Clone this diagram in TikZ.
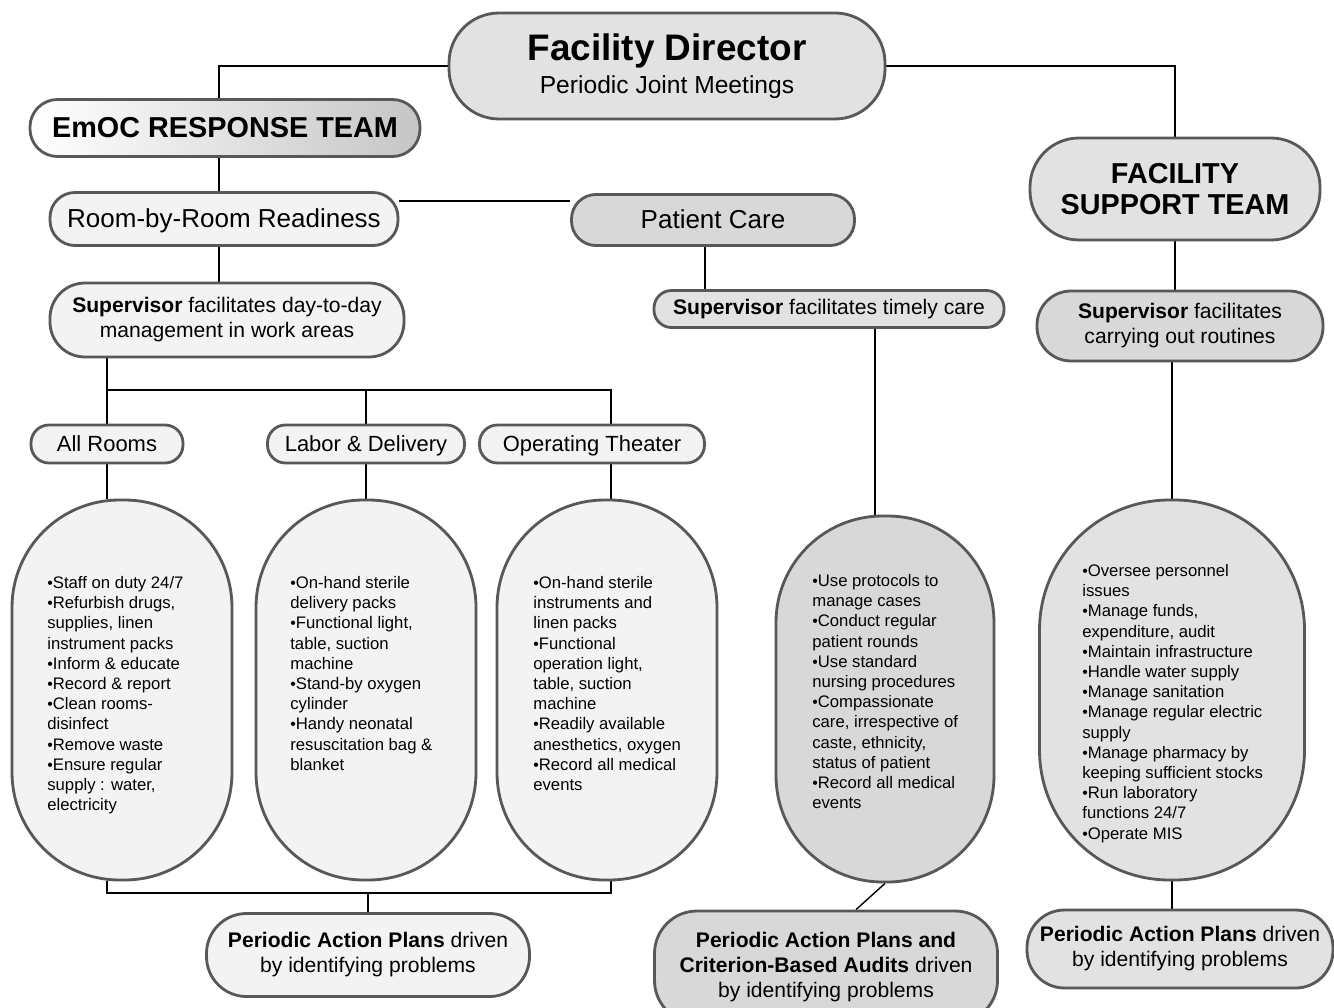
\documentclass[tikz,border=0pt]{standalone}
\usepackage{fontspec}
\setmainfont{Liberation Sans}
\usepackage{tikz}
\usetikzlibrary{positioning, shadows, backgrounds}
\usepackage{xcolor}
\definecolor{edgecolor}{RGB}{88, 88, 88}
\definecolor{lightfill}{RGB}{243, 243, 243}
\definecolor{midfill}{RGB}{226, 226, 226}
\definecolor{darkfill}{RGB}{216, 216, 216}
\newcommand{\dotitem}{{\fontsize{9}{9}\selectfont\textbullet}}

\begin{document}
\begin{tikzpicture}[
    pill/.style={rectangle, rounded corners=#1, draw=edgecolor, line width=1.6pt,
                 align=center, inner sep=0pt, text=black,
                 drop shadow={opacity=0.25, shadow xshift=0.6pt, shadow yshift=-0.6pt},
                 font=\fontsize{12}{14.2}\selectfont},
    area/.style={pill=0.36cm, fill=lightfill, minimum height=0.76cm,
                 text height=10.2pt, text depth=1.6pt,
                 font=\fontsize{12.5}{15}\selectfont},
    listoval/.style={pill=2.15cm, fill=lightfill, minimum width=4.4cm, minimum height=7.6cm},
    bullets/.style={align=left, anchor=north west, inner sep=0pt,
                    font=\fontsize{9.5}{11.5}\selectfont},
    connection/.style={-, line width=0.8pt, black}
]
\useasboundingbox (0,0) rectangle (26.68,-20.16);

% Top level
\node[pill=1cm, fill=midfill, minimum width=8.72cm, minimum height=2.12cm,
      font=\fontsize{14}{19}\selectfont] (director) at (13.34,-1.32)
      {{\fontsize{21}{19}\selectfont\bfseries Facility Director}\\Periodic Joint Meetings};
\node[pill=0.55cm, left color=white, right color=gray!45, minimum width=7.8cm, minimum height=1.14cm,
      font=\fontsize{16.4}{19}\selectfont\bfseries] (emoc) at (4.5,-2.56) {EmOC RESPONSE TEAM};
\node[pill=0.98cm, fill=midfill, minimum width=5.8cm, minimum height=2.04cm,
      font=\fontsize{16.4}{17.6}\selectfont\bfseries] (support) at (23.5,-3.78) {FACILITY\\SUPPORT TEAM};

% Second level
\node[pill=0.5cm, fill=lightfill, minimum width=6.96cm, minimum height=1.06cm,
      text height=11.6pt, text depth=2pt,
      font=\fontsize{14.8}{17}\selectfont] (room) at (4.48,-4.38) {Room-by-Room Readiness};
\node[pill=0.49cm, fill=darkfill, minimum width=5.66cm, minimum height=1.02cm,
      text height=11.6pt, text depth=2pt,
      font=\fontsize{14.8}{17}\selectfont] (care) at (14.26,-4.4) {Patient Care};

% Supervisors
\node[pill=0.7cm, fill=lightfill, minimum width=7.08cm, minimum height=1.48cm] (supday) at (4.54,-6.4)
      {\textbf{Supervisor} facilitates day-to-day\\management in work areas};
\node[pill=0.35cm, fill=midfill, minimum width=7cm, minimum height=0.74cm] (suptime) at (16.58,-6.18)
      {\textbf{Supervisor} facilitates timely care};
\node[pill=0.68cm, fill=darkfill, minimum width=5.72cm, minimum height=1.4cm] (suprout) at (23.6,-6.52)
      {\textbf{Supervisor} facilitates\\carrying out routines};

% Work areas
\node[area, minimum width=3.04cm] (allrooms) at (2.14,-8.88) {All Rooms};
\node[area, minimum width=3.94cm] (labor) at (7.32,-8.88) {Labor \& Delivery};
\node[area, minimum width=4.5cm] (theater) at (11.84,-8.88) {Operating Theater};
\coordinate (split) at (2.12,-7.8);
\coordinate (ottap) at ([xshift=0.38cm]theater.north);

% Task ovals
\node[listoval] (ovA) at (2.44,-13.8) {};
\node[listoval] (ovB) at (7.32,-13.8) {};
\node[listoval] (ovC) at (12.14,-13.8) {};
\node[listoval, fill=darkfill, minimum width=4.36cm, minimum height=7.32cm, rounded corners=2.13cm] (ovM) at (17.7,-13.98) {};
\node[listoval, fill=midfill, minimum width=5.3cm, rounded corners=2.6cm] (ovR) at (23.44,-13.8) {};

\node[bullets] (listA) at (0.94,-11.52) {\dotitem Staff on duty 24/7\\\dotitem Refurbish drugs,\\supplies, linen\\instrument packs\\\dotitem Inform \& educate\\\dotitem Record \& report\\\dotitem Clean rooms-\\disinfect\\\dotitem Remove waste\\\dotitem Ensure regular\\supply : water,\\electricity};
\node[bullets] (listB) at (5.8,-11.52) {\dotitem On-hand sterile\\delivery packs\\\dotitem Functional light,\\table, suction\\machine\\\dotitem Stand-by oxygen\\cylinder\\\dotitem Handy neonatal\\resuscitation bag \&\\blanket};
\node[bullets] (listC) at (10.66,-11.52) {\dotitem On-hand sterile\\instruments and\\linen packs\\\dotitem Functional\\operation light,\\table, suction\\machine\\\dotitem Readily available\\anesthetics, oxygen\\\dotitem Record all medical\\events};
\node[bullets] (listM) at (16.24,-11.48) {\dotitem Use protocols to\\manage cases\\\dotitem Conduct regular\\patient rounds\\\dotitem Use standard\\nursing procedures\\\dotitem Compassionate\\care, irrespective of\\caste, ethnicity,\\status of patient\\\dotitem Record all medical\\events};
\node[bullets] (listR) at (21.64,-11.28) {\dotitem Oversee personnel\\issues\\\dotitem Manage funds,\\expenditure, audit\\\dotitem Maintain infrastructure\\\dotitem Handle water supply\\\dotitem Manage sanitation\\\dotitem Manage regular electric\\supply\\\dotitem Manage pharmacy by\\keeping sufficient stocks\\\dotitem Run laboratory\\functions 24/7\\\dotitem Operate MIS};

% Action plans
\node[pill=0.8cm, fill=lightfill, minimum width=6.46cm, minimum height=1.66cm] (planA) at (7.36,-19.1)
      {\textbf{Periodic Action Plans} driven\\by identifying problems};
\node[pill=0.85cm, fill=darkfill, minimum width=6.86cm, minimum height=2.24cm] (planM) at (16.52,-19.34)
      {\textbf{Periodic Action Plans and}\\\textbf{Criterion-Based Audits} driven\\by identifying problems};
\node[pill=0.75cm, fill=midfill, minimum width=6.12cm, minimum height=1.56cm] (planR) at (23.6,-18.98)
      {\textbf{Periodic Action Plans} driven\\by identifying problems};
\coordinate (merge) at (planA.north |- 0,-17.86);

% Connections
\begin{scope}[on background layer]
\draw[connection] (director.west) -| ([xshift=-0.12cm]emoc.north);
\draw[connection] (director.east) -| (support.north);
\draw[connection] ([xshift=-0.12cm]emoc.south) -- ([xshift=-0.12cm]emoc.south |- room.north);
\draw[connection] ([yshift=0.36cm]room.east) -- ([yshift=0.36cm]room.east -| care.west);
\draw[connection] ([xshift=-0.1cm]room.south) -- ([xshift=-0.1cm]room.south |- supday.north);
\draw[connection] ([xshift=-0.16cm]care.south) -- ([xshift=-0.16cm]care.south |- suptime.north);
\draw[connection] (support.south) -- (support.south |- suprout.north);
\draw[connection] (allrooms.north) -- (allrooms.north |- supday.south);
\draw[connection] (split) -| (ottap);
\draw[connection] (labor.north |- split) -- (labor.north);
\draw[connection] (allrooms.south) -- (allrooms.south |- ovA.north);
\draw[connection] (labor.south) -- (labor.south |- ovB.north);
\draw[connection] ([xshift=0.38cm]theater.south) -- ([xshift=0.38cm]theater.south |- ovC.north);
\draw[connection] ([xshift=-0.2cm]ovM.north |- suptime.south) -- ([xshift=-0.2cm]ovM.north);
\draw[connection] (ovR.north |- suprout.south) -- (ovR.north);
\draw[connection] (allrooms.south |- ovA.south) |- (merge) -| (ottap |- ovC.south);
\draw[connection] (merge) -- (planA.north);
\draw[connection] (ovM.south) -- ([xshift=0.6cm]planM.north);
\draw[connection] (ovR.south) -- (ovR.south |- planR.north);
\end{scope}

\end{tikzpicture}
\end{document}
